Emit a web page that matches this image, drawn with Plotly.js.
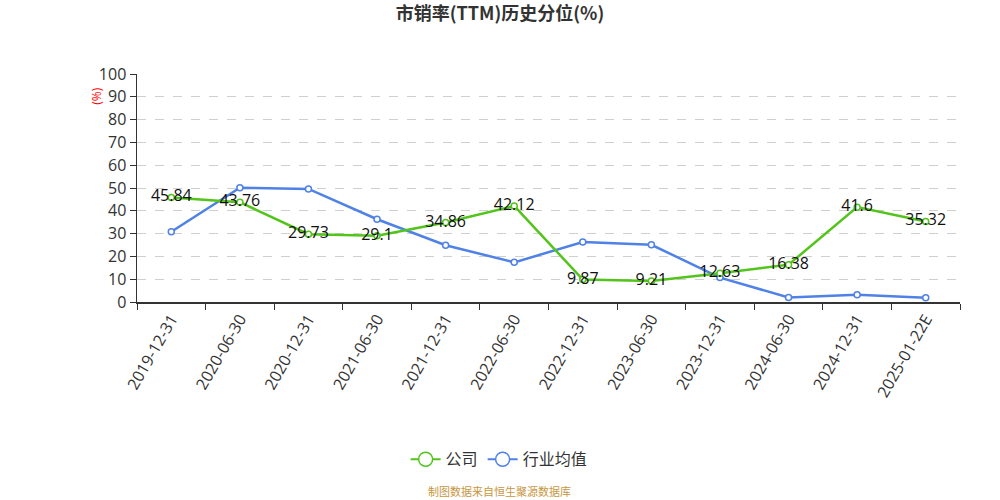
<!DOCTYPE html>
<html>
<head>
<meta charset="utf-8">
<script src="https://cdn.plot.ly/plotly-3.0.1.min.js"></script>
<style>html,body{margin:0;padding:0;background:#fff;}#chart{width:1000px;height:500px;}</style>
</head>
<body>
<div id="chart"></div>
<script>
const categories = ["2019-12-31","2020-06-30","2020-12-31","2021-06-30","2021-12-31","2022-06-30","2022-12-31","2023-06-30","2023-12-31","2024-06-30","2024-12-31","2025-01-22E"];
const companyValues = [45.84,43.76,29.73,29.1,34.86,42.12,9.87,9.21,12.63,16.38,41.6,35.32];
const industryValues = [30.8,50.1,49.6,36.3,24.9,17.4,26.3,25.1,10.7,2.0,3.2,1.9];
const yTicks = [0,10,20,30,40,50,60,70,80,90,100];
const seriesNames = ["公司", "行业均值"];

const font = "'Open Sans','Noto Sans CJK SC',sans-serif";
const cjk = "'Noto Sans CJK SC','Open Sans',sans-serif";
const green = "#52c41a";
const blue = "#4f81e6";

const traces = [
  {
    name: seriesNames[1], x: categories, y: industryValues, type: "scatter", mode: "lines+markers",
    line: {color: blue, width: 2.5}, showlegend: false,
    marker: {symbol: "circle", size: 6, color: "#fff", line: {color: blue, width: 1.5}},
    cliponaxis: false
  },
  {
    name: seriesNames[0], x: categories, y: companyValues, type: "scatter", mode: "lines+markers+text",
    text: companyValues.map(String), textposition: "middle center",
    textfont: {size: 16, color: "#111", family: font},
    line: {color: green, width: 2.5}, showlegend: false,
    marker: {symbol: "circle", size: 6, color: "#fff", line: {color: green, width: 1.5}},
    cliponaxis: false
  },
  {
    name: seriesNames[0], x: [null], y: [null], type: "scatter", mode: "lines+markers",
    line: {color: green, width: 2}, marker: {symbol: "circle", size: 14, color: "#fff", line: {color: green, width: 1.5}}
  },
  {
    name: seriesNames[1], x: [null], y: [null], type: "scatter", mode: "lines+markers",
    line: {color: blue, width: 2}, marker: {symbol: "circle", size: 14, color: "#fff", line: {color: blue, width: 1.5}}
  }
];

const layout = {
  width: 1000, height: 500,
  margin: {l: 137, r: 40, t: 74, b: 198},
  paper_bgcolor: "#fff", plot_bgcolor: "#fff",
  font: {family: font, color: "#333"},
  title: {text: "<b>市销率(TTM)历史分位(%)</b>", x: 0.5, xanchor: "center", y: 0.972, yanchor: "middle", font: {size: 18, color: "#333", family: cjk}},
  xaxis: {
    type: "category", range: [-0.5, 11.5], tickson: "boundaries",
    ticks: "outside", ticklen: 6, tickcolor: "#333", tickwidth: 1,
    showline: true, linecolor: "#333", linewidth: 1.5,
    showgrid: false, zeroline: false, tickangle: -60,
    tickfont: {size: 16, color: "#333", family: font}
  },
  yaxis: {
    range: [0, 100], tickvals: yTicks, ticktext: yTicks.map(String),
    ticks: "outside", ticklen: 6, tickcolor: "#333",
    showline: true, linecolor: "#333", linewidth: 1.5,
    showgrid: true, gridcolor: "#cfcfcf", griddash: "dash", gridwidth: 1,
    zeroline: false, tickfont: {size: 16, color: "#333", family: font}
  },
  showlegend: true,
  legend: {orientation: "h", x: 0.44, xanchor: "center", y: -0.69, yanchor: "middle", font: {size: 16, color: "#333", family: cjk}, itemwidth: 30},
  annotations: [
    {text: "(%)", xref: "paper", yref: "paper", x: -0.0486, y: 0.9, xanchor: "center", yanchor: "middle", textangle: -90, showarrow: false, font: {size: 12, color: "#f00", family: font}},
    {text: "制图数据来自恒生聚源数据库", xref: "paper", yref: "paper", x: 0.441, y: -0.83, xanchor: "center", yanchor: "middle", showarrow: false, font: {size: 11, color: "#c8963e", family: cjk}}
  ]
};
Plotly.newPlot("chart", traces, layout, {displayModeBar: false, staticPlot: true});
</script>
</body>
</html>
